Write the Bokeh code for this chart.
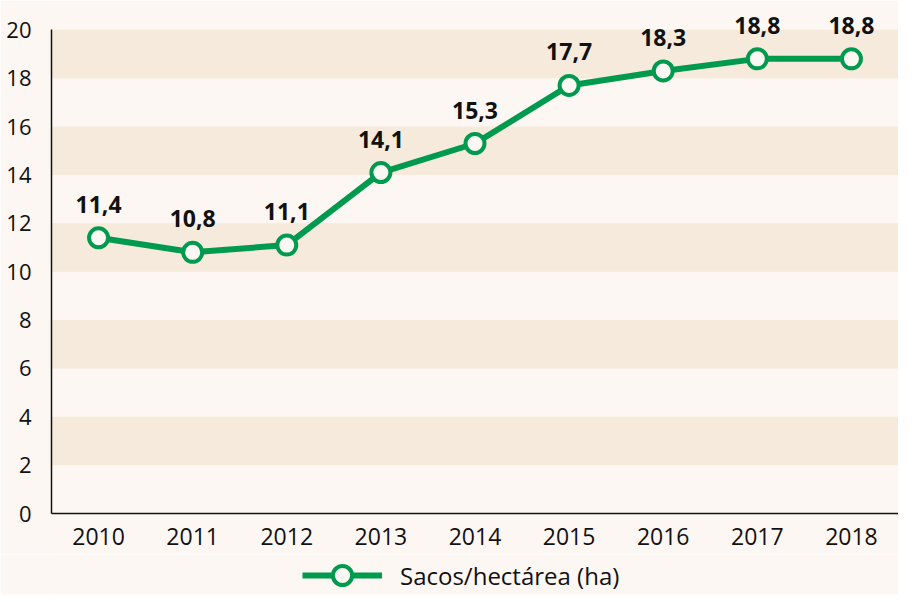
from bokeh.plotting import figure
from bokeh.models import ColumnDataSource, FactorRange, Range1d, BoxAnnotation, Legend, LegendItem, FixedTicker, LabelSet
from bokeh.layouts import column
from bokeh.core.properties import value
from bokeh.embed import file_html
from bokeh.resources import INLINE

years = ["2010", "2011", "2012", "2013", "2014", "2015", "2016", "2017", "2018"]
values = [11.4, 10.8, 11.1, 14.1, 15.3, 17.7, 18.3, 18.8, 18.8]
labels = ["11,4", "10,8", "11,1", "14,1", "15,3", "17,7", "18,3", "18,8", "18,8"]
y_ticks = [0, 2, 4, 6, 8, 10, 12, 14, 16, 18, 20]
series_name = "Sacos/hectárea (ha)"

GREEN = "#009a4e"
BG = "#fcf7f2"
BAND = "#f5eadc"
INK = "#111111"
FONT = "Open Sans"
Y_TOP = 20.8  # headroom above the last tick so value labels are not clipped

p = figure(width=898, height=554, x_range=FactorRange(*years), y_range=Range1d(0, Y_TOP),
           output_backend="svg", toolbar_location=None,
           min_border_left=51, min_border_right=0, min_border_top=10, min_border_bottom=41)
p.x_range.range_padding = 0
p.background_fill_color = BG
p.border_fill_color = BG
p.outline_line_color = None
p.grid.visible = False

for i in range(1, len(y_ticks) - 1, 2):
    p.add_layout(BoxAnnotation(bottom=y_ticks[i], top=y_ticks[i + 1], fill_color=BAND, fill_alpha=1.0,
                               line_color=None, level="underlay"))

src = ColumnDataSource(dict(x=years, y=values, lab=labels))
p.line("x", "y", source=src, line_color=GREEN, line_width=6)
p.scatter("x", "y", source=src, size=19, fill_color="#fbf8f3", line_color=GREEN, line_width=4)

lbl = LabelSet(x="x", y="y", text="lab", source=src, text_align="center", text_baseline="alphabetic",
               y_offset=25, text_font=value(FONT), text_font_style="bold", text_font_size="23px",
               text_color=INK)
p.add_layout(lbl)

for ax in (p.xaxis[0], p.yaxis[0]):
    ax.axis_line_color = INK
    ax.axis_line_width = 1.5
    ax.major_tick_line_color = None
    ax.minor_tick_line_color = None
    ax.major_label_text_font = FONT
    ax.major_label_text_color = INK
p.xaxis[0].major_label_text_font_size = "23px"
p.yaxis[0].major_label_text_font_size = "22px"
p.yaxis[0].ticker = FixedTicker(ticks=y_ticks)
p.yaxis[0].bounds = (y_ticks[0], y_ticks[-1])
p.yaxis[0].major_label_standoff = 14
p.xaxis[0].major_label_standoff = 8

# legend strip below the chart (same data, drawn out of view; only the legend shows)
lg = figure(width=898, height=40, x_range=FactorRange(*years), y_range=Range1d(100, 101),
            output_backend="svg", toolbar_location=None,
            min_border_left=51, min_border_right=0, min_border_top=0, min_border_bottom=0)
lg.axis.visible = False
lg.grid.visible = False
lg.outline_line_color = None
lg.background_fill_color = BG
lg.border_fill_color = BG
r1 = lg.line("x", "y", source=src, line_color=GREEN, line_width=6)
r2 = lg.scatter("x", "y", source=src, size=19, fill_color="#fbf8f3", line_color=GREEN, line_width=4)
legend = Legend(items=[LegendItem(label=series_name, renderers=[r1, r2])], orientation="horizontal",
                location=(251, -5), glyph_width=80, glyph_height=48, label_text_font=FONT,
                label_text_font_size="24px", label_text_color=INK, background_fill_alpha=0,
                border_line_color=None, margin=0, padding=0, label_standoff=18)
lg.add_layout(legend)

layout = column(p, lg, spacing=0)
open("out.html", "w").write(file_html(layout, INLINE))
